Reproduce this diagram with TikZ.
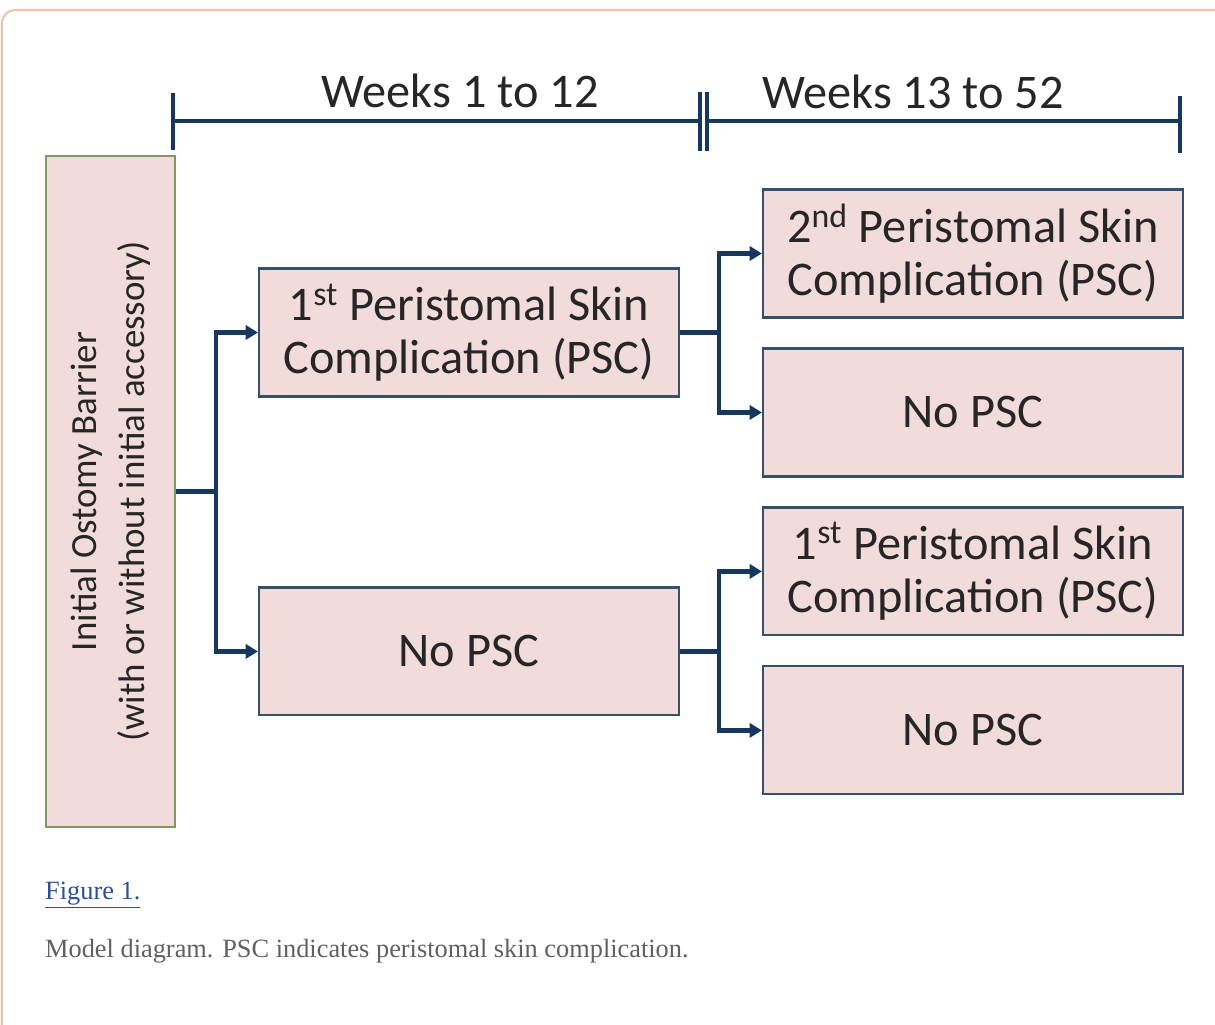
\documentclass[tikz,border=0pt]{standalone}
\usepackage{fontspec}
\setmainfont{Liberation Serif}
\newfontfamily\boxfont{Carlito}
\usepackage{tikz}
\usetikzlibrary{arrows.meta,positioning}
\definecolor{boxfill}{HTML}{F2DCDB}
\definecolor{boxline}{HTML}{35506B}
\definecolor{navy}{HTML}{17375E}
\definecolor{olive}{HTML}{7F9A5F}
\definecolor{peach}{HTML}{EFC3A8}
\definecolor{linkblue}{HTML}{2B4F9E}
\definecolor{capgray}{HTML}{606060}

\begin{document}
\begin{tikzpicture}[x=0.02cm,y=-0.02cm,node distance=3.18cm,on grid,
    psc/.style={draw=boxline,line width=1.2pt,fill=boxfill,minimum width=8.4cm,minimum height=2.56cm,
      inner sep=0pt,align=center,text=black!85,font=\boxfont\fontsize{27.5}{30}\selectfont},
    start/.style={draw=olive,line width=1.2pt,fill=boxfill,minimum width=13.42cm,minimum height=2.58cm,
      inner sep=0pt,align=center,text=black!85,font=\boxfont\fontsize{21}{27.5}\selectfont},
    weeks/.style={anchor=base,text=black!85,font=\boxfont\fontsize{27.5}{30}\selectfont},
    link/.style={draw=navy,line width=2.6pt},
    arr/.style={link,-{Triangle[length=7pt,width=8pt]}},
    tick/.style={draw=navy,line width=2.2pt}]
    \useasboundingbox (0,0) rectangle (1215,1025);
    % frame of the figure panel
    \draw[peach,line width=1.2pt,rounded corners=0.26cm] (1215,10) -- (2,10) -- (2,1025);

    % time line
    \coordinate (w0) at (173,121);
    \coordinate (w1) at (700,121);
    \coordinate (w2) at (707,121);
    \coordinate (w3) at (1180,121);
    \draw[link] (w0) -- (w1);
    \draw[link] (w2) -- (w3);
    \draw[tick] (w0) ++(0,-28) -- ++(0,57);
    \draw[tick] (w1) ++(0,-29) -- ++(0,59);
    \draw[tick] (w2) ++(0,-29) -- ++(0,59);
    \draw[tick] (w3) ++(0,-25) -- ++(0,57);
    \node[weeks] (p1) at (460,107) {Weeks 1 to 12};
    \node[weeks] (p2) at (913,108) {Weeks 13 to 52};

    % \node[style] (identifier) [placement] {display};
    \node[start,rotate=90] (0) at (110.5,491.5) {Initial Ostomy Barrier\\(with or without initial accessory)};
    \node[psc] (1) at (469,332.5) {1\textsuperscript{st} Peristomal Skin\\Complication (PSC)};
    \node[psc] (2) [below=6.38cm of 1] {No PSC};
    \node[psc] (3) at (973,253.5) {2\textsuperscript{nd} Peristomal Skin\\Complication (PSC)};
    \node[psc] (4) [below=of 3] {No PSC};
    \node[psc] (5) [below=of 4] {1\textsuperscript{st} Peristomal Skin\\Complication (PSC)};
    \node[psc] (6) [below=of 5] {No PSC};

    % branches
    \draw[link] (0.south) -- ++(40,0) coordinate (j0);
    \draw[arr] (j0) |- (1.west);
    \draw[arr] (j0) |- (2.west);
    \draw[link] (1.east) -- ++(39,0) coordinate (j1);
    \draw[arr] (j1) |- (3.west);
    \draw[arr] (j1) |- (4.west);
    \draw[link] (2.east) -- ++(39,0) coordinate (j2);
    \draw[arr] (j2) |- (5.west);
    \draw[arr] (j2) |- (6.west);

    % caption
    \node[anchor=base west,text=linkblue,font=\fontsize{15}{18}\selectfont] (fig) at (39,899) {\underline{Figure 1.}};
    \node[anchor=base west,text=capgray,font=\fontsize{15}{18}\selectfont] (cap) at (39,957) {Model diagram. PSC indicates peristomal skin complication.};
\end{tikzpicture}
\end{document}
